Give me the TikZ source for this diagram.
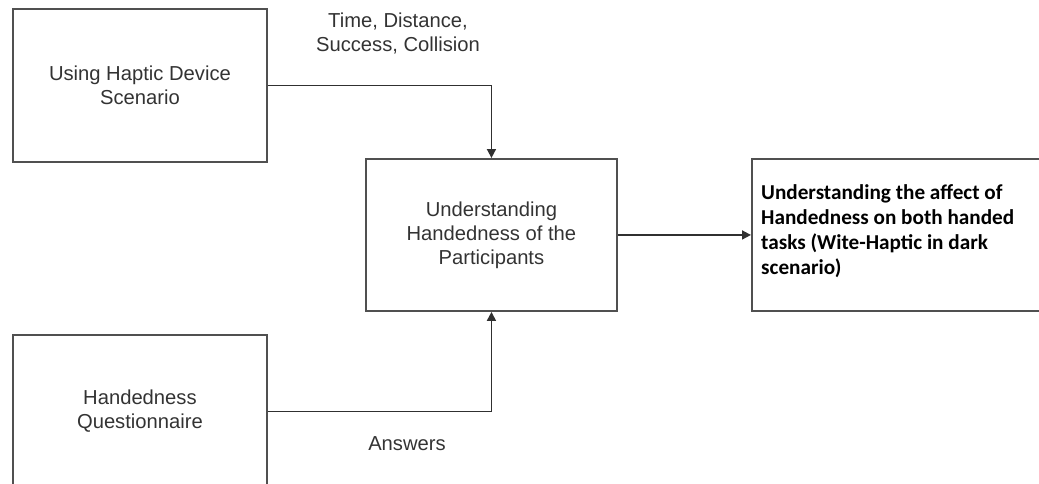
\documentclass[tikz,border=0pt]{standalone}
\usepackage{fontspec}
\setmainfont{Liberation Sans}
\newfontfamily\carl{Carlito}
\usetikzlibrary{arrows.meta}
\definecolor{boxgray}{HTML}{505050}
\definecolor{txtgray}{HTML}{333333}
\definecolor{linegray}{HTML}{303030}
\begin{document}
\begin{tikzpicture}[x=1pt,y=-1pt,
  box/.style={draw=boxgray, line width=1.9pt, anchor=north west, inner sep=0pt},
  lbl/.style={text=txtgray, align=center, font=\fontsize{20.2}{24}\selectfont},
  arr/.style={draw=linegray, line width=1.7pt, -{Triangle[length=9pt,width=9pt]}}]
\useasboundingbox (0,0) rectangle (1039,483);
\clip (0,0) rectangle (1039,483);
\node[box, minimum width=254pt, minimum height=153pt] (A) at (12,8) {};
\node[lbl] (At) at (A.center) {Using Haptic Device\\Scenario};
\node[box, minimum width=254pt, minimum height=153pt] (B) at (12,334) {};
\node[lbl] (Bt) at ([yshift=0pt]B.center) {Handedness\\Questionnaire};
\node[box, minimum width=251pt, minimum height=152pt] (C) at (365,158) {};
\node[lbl] (Ct) at (C.center) {Understanding\\Handedness of the\\Participants};
\node[box, minimum width=300pt, minimum height=152pt] (D) at (751,158) {};
\node[anchor=north west, inner sep=0pt, align=left, text=black,
  font=\carl\bfseries\fontsize{21.2}{25}\selectfont] (Dt) at (761,184)
  {Understanding the affect of\\Handedness on both handed\\tasks (Wite-Haptic in dark\\scenario)};
\node[lbl] (L1) at (398,33) {Time, Distance,\\Success, Collision};
\node[lbl] (L2) at (407,444) {Answers};
\draw[arr] (A.east) -| (C.north);
\draw[arr] (B.east) -| (C.south);
\draw[arr] (C.east) -- (D.west);
\end{tikzpicture}
\end{document}
